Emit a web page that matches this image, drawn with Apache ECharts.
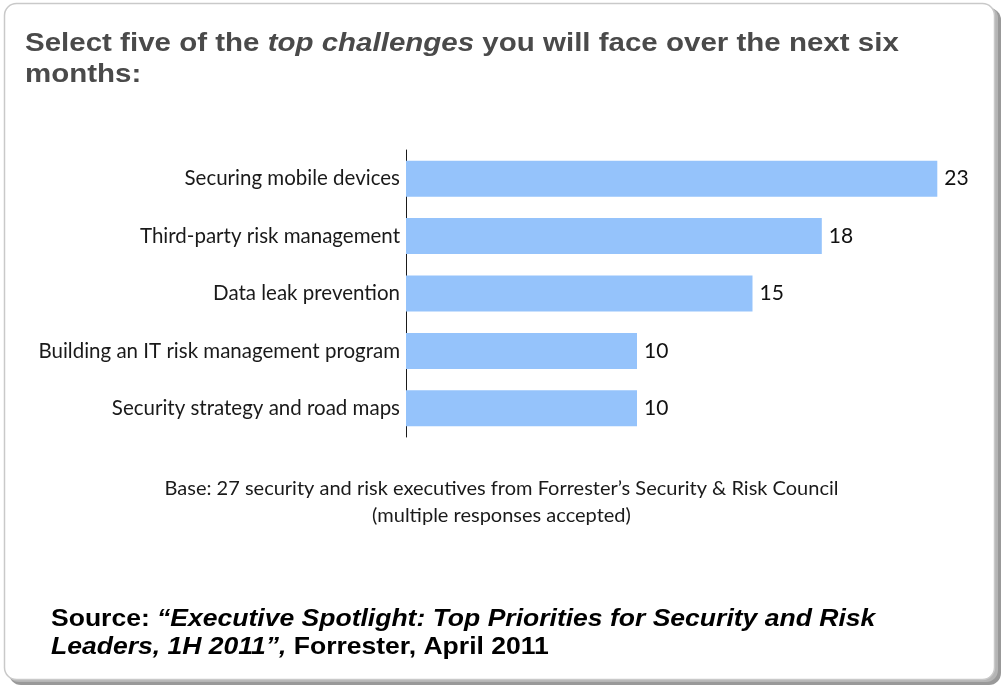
<!DOCTYPE html>
<html>
<head>
<meta charset="utf-8">
<script src="https://cdn.jsdelivr.net/npm/echarts@6/dist/echarts.min.js"></script>
<style>
  html, body { margin: 0; padding: 0; background: #ffffff; }
  #chart { width: 1003px; height: 686px; }
</style>
</head>
<body>
<div id="chart"></div>
<script>
// Survey answers: top challenges for the next six months
const categories = [
  'Securing mobile devices',
  'Third-party risk management',
  'Data leak prevention',
  'Building an IT risk management program',
  'Security strategy and road maps'
];
const responses = [23, 18, 15, 10, 10];

const labelFont = 'Lato, "Liberation Sans Narrow", "Noto Sans", sans-serif';
const headFont = '"Liberation Sans", Arial, sans-serif';

const chart = echarts.init(document.getElementById('chart'), null, { renderer: 'canvas' });

chart.setOption({
  animation: false,
  backgroundColor: '#ffffff',
  graphic: [
    // card drop shadow
    { type: 'rect', z: -20, shape: { x: 9, y: 8, width: 992, height: 677, r: 12 },
      style: { fill: '#999999' } },
    { type: 'rect', z: -19, shape: { x: 7, y: 6, width: 991, height: 676, r: 12 },
      style: { fill: '#b5b5b5' } },
    // card
    { type: 'rect', z: -18, shape: { x: 4.5, y: 3.5, width: 990, height: 676, r: 12 },
      style: { fill: '#ffffff', stroke: '#c9c9c9', lineWidth: 1.5 } },
    // heading (the typeface is set wide)
    { type: 'text', x: 25, y: 29, scaleX: 1.18, originX: 0,
      style: {
        text: '{b|Select five of the }{i|top challenges}{b| you will face over the next six}\n{b|months:}',
        rich: {
          b: { font: 'bold 25px ' + headFont, fill: '#4a4a4a', lineHeight: 31 },
          i: { font: 'italic bold 25px ' + headFont, fill: '#4a4a4a', lineHeight: 31 }
        }
      } },
    // footnote under the bars
    { type: 'text', left: 'center', top: 479,
      style: { text: 'Base: 27 security and risk executives from Forrester’s Security & Risk Council',
        font: '20px ' + labelFont, fill: '#1a1a1a' } },
    { type: 'text', left: 'center', top: 506,
      style: { text: '(multiple responses accepted)',
        font: '20px ' + labelFont, fill: '#1a1a1a' } },
    // source line
    { type: 'text', x: 51, y: 605, scaleX: 1.105, originX: 0,
      style: {
        text: '{b|Source: }{bi|“Executive Spotlight: Top Priorities for Security and Risk}\n{bi|Leaders, 1H 2011”,}{b| Forrester, April 2011}',
        rich: {
          b: { font: 'bold 24px ' + headFont, fill: '#000000', lineHeight: 28 },
          bi: { font: 'italic bold 24px ' + headFont, fill: '#000000', lineHeight: 28 }
        }
      } }
  ],
  grid: { left: 406, top: 150, height: 287, width: 577.5, containLabel: false },
  xAxis: {
    type: 'value',
    min: 0,
    max: 25,
    show: false
  },
  yAxis: {
    type: 'category',
    data: categories,
    inverse: true,
    axisLine: { show: true, lineStyle: { color: '#1a1a1a', width: 1 } },
    axisTick: { show: false },
    axisLabel: { color: '#1a1a1a', fontFamily: labelFont, fontSize: 20.5, margin: 6 },
    splitLine: { show: false }
  },
  series: [{
    type: 'bar',
    data: responses,
    barWidth: 36,
    itemStyle: { color: '#95c3fb' },
    label: {
      show: true,
      position: 'right',
      distance: 7,
      color: '#111111',
      fontFamily: labelFont,
      fontSize: 21
    }
  }]
});
</script>
</body>
</html>
